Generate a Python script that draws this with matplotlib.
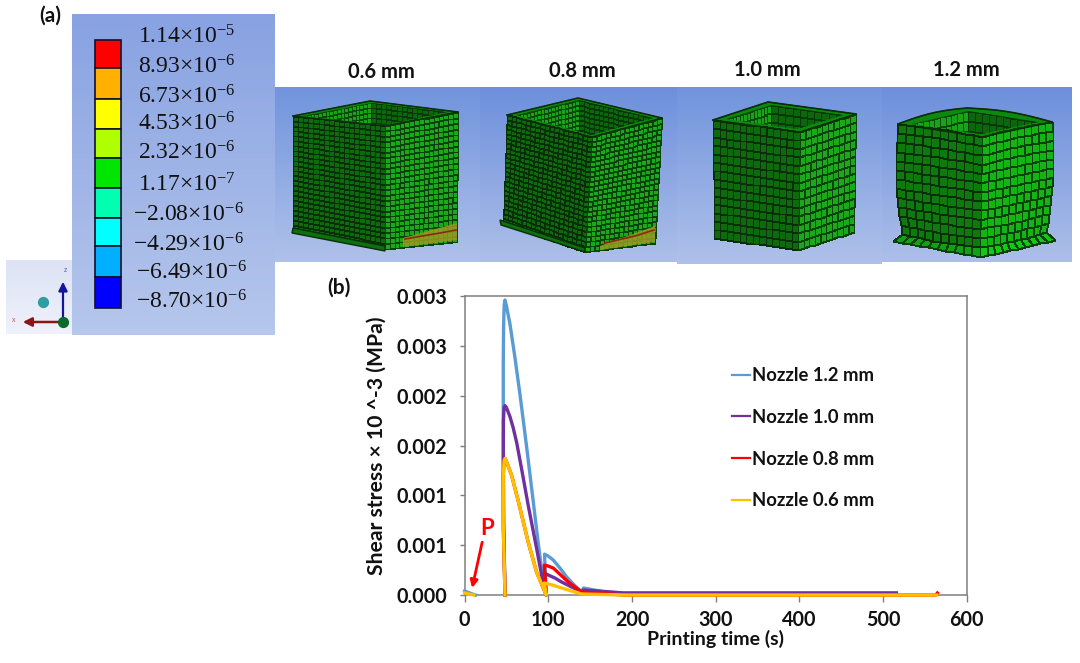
import matplotlib
matplotlib.use("Agg")
import matplotlib.pyplot as plt
import numpy as np
from matplotlib.patches import Polygon, Rectangle

plt.rcParams["font.family"] = ["Lato", "DejaVu Sans"]
plt.rcParams["font.weight"] = "bold"
plt.rcParams["axes.labelweight"] = "bold"
plt.rcParams["mathtext.fontset"] = "stix"
plt.rcParams["mathtext.default"] = "regular"

# chart values
t_blue = [0, 6, 13, None, 48.3, 46.6, 46.2, 46.2, 46.6, 47.3, 48.3, 50, 54.2, 60.2, 66.2, 74.2, 82, 88, 92, 95, 97.5, 95.5, 100, 106, 114, 122, 131, 140, 142, 155, 168, 190, 300, 516]
s_blue = [0.00004, 0.00002, 0, None, 0, 0.0008, 0.0016, 0.0023, 0.0027, 0.00291, 0.00296, 0.0029, 0.00272, 0.00238, 0.00201, 0.00148, 0.00094, 0.00052, 0.00026, 0.0001, 0, 0.00041, 0.00039, 0.00035, 0.00027, 0.00018, 0.0001, 0.00003, 0.00007, 0.00005, 0.00003, 0.00002, 0.00002, 0.00002]
t_purple = [48.3, 46.6, 46.2, 46.4, 47.2, 48.3, 50, 54.2, 58, 62.2, 68, 76, 86, 92, 95, 97.5, 95.3, 100, 108, 116, 128, 140, 142, 160, 190, 300, 516]
s_purple = [0, 0.0007, 0.0014, 0.00175, 0.00188, 0.0019, 0.00188, 0.00179, 0.00168, 0.00153, 0.00127, 0.0009, 0.00047, 0.0002, 0.00007, 0, 0.00022, 0.0002, 0.00017, 0.00013, 0.00008, 0.00003, 0.00005, 0.00004, 0.00002, 0.00002, 0.00002]
t_red = [48.3, 46.2, 46.2, 47.2, 48.3, 50, 56.2, 64.2, 76, 86, 94, 97.5, 95.3, 100, 106, 115, 124, 132, 140, 190, 400, 563, 565]
s_red = [0, 0.0007, 0.0012, 0.00135, 0.00137, 0.00134, 0.0012, 0.00094, 0.00053, 0.00023, 0.00007, 0, 0.0003, 0.00029, 0.00027, 0.0002, 0.00013, 0.00008, 0.00003, 0, 0, 0, 0.00002]
t_yellow = [0, 5, 11, None, 48.3, 46.2, 46.2, 47.2, 48.3, 50, 56.2, 64.2, 76, 86, 94, 97.5, 95.3, 105, 116, 128, 140, 190, 400, 564]
s_yellow = [0.00002, 0.00001, 0, None, 0, 0.0007, 0.0012, 0.00135, 0.00137, 0.00134, 0.0012, 0.00094, 0.00053, 0.00023, 0.00007, 0, 0.00012, 0.0001, 0.00007, 0.00004, 0.00001, 0, 0, 0]
names = ["Nozzle 1.2 mm", "Nozzle 1.0 mm", "Nozzle 0.8 mm", "Nozzle 0.6 mm"]
colors = ["#5b9bd5", "#7030a0", "#ff0000", "#ffc000"]
x_ticks = [0, 100, 200, 300, 400, 500, 600]
y_ticks = [0, 0.0005, 0.001, 0.0015, 0.002, 0.0025, 0.003]
y_labels = ["0.000", "0.001", "0.001", "0.002", "0.002", "0.003", "0.003"]

# contour legend
levels = ["1.14", "8.93", "6.73", "4.53", "2.32", "1.17", "\u22122.08", "\u22124.29", "\u22126.49", "\u22128.70"]
exps = [5, 6, 6, 6, 6, 7, 6, 6, 6, 6]
level_colors = ["#ff0000", "#ffb000", "#ffff00", "#b0ff00", "#00e600", "#00ffb0", "#00ffff", "#00b0ff", "#0000ff"]
bar_edges = [40, 68, 99, 129, 158, 188, 218, 246, 277, 308]
label_y = [37, 67, 97, 124, 153, 185, 215, 245, 273, 302]
label_x = [138, 138, 138, 138, 138, 138, 133, 133, 136, 136]

fig = plt.figure(figsize=(10.8, 6.63), dpi=100)

# whole figure in pixels for panel (a)
bg = fig.add_axes([0, 0, 1, 1])
bg.set_xlim(0, 1080)
bg.set_ylim(663, 0)
bg.axis("off")


def gradient(x0, x1, y0, y1, top, bottom):
    c0 = np.array(matplotlib.colors.to_rgb(top))
    c1 = np.array(matplotlib.colors.to_rgb(bottom))
    f = np.linspace(0, 1, 64)[:, None, None]
    img = c0[None, None, :] * (1 - f) + c1[None, None, :] * f
    bg.imshow(img, extent=(x0, x1, y1, y0), aspect="auto", zorder=1)


def face(p00, p10, p01, p11, nu, nv, fc, ec, side=0, bulge=0.0, sag=0.0, lw=0.7, clip=None):
    # bilinear grid, side=-1/1 bows the outer edge of a left/right wall
    p00, p10, p01, p11 = [np.array(p, dtype=float) for p in (p00, p10, p01, p11)]
    U, V = np.meshgrid(np.linspace(0, 1, nu + 1), np.linspace(0, 1, nv + 1))
    X = (1 - U) * (1 - V) * p00[0] + U * (1 - V) * p10[0] + (1 - U) * V * p01[0] + U * V * p11[0]
    Y = (1 - U) * (1 - V) * p00[1] + U * (1 - V) * p10[1] + (1 - U) * V * p01[1] + U * V * p11[1]
    if side < 0:
        X = X - bulge * np.sin(np.pi * V) * (1 - U)
    elif side > 0:
        X = X + bulge * np.sin(np.pi * V) * U
    Y = Y + sag * np.sin(np.pi * U) * (2 * V - 1)
    m = bg.pcolormesh(X, Y, np.zeros_like(X[:-1, :-1]), cmap=matplotlib.colors.ListedColormap([fc]),
                      edgecolors=ec, linewidth=lw, shading="flat", zorder=3)
    if clip is not None:
        m.set_clip_path(Polygon(clip, closed=True, transform=bg.transData))


def box(L, C, R, B, Lb, Cb, Rb, nl, nr, nv, wall, lw, bulge=0.0, sag=0.0, arc=0.0,
        left="#0d6a0d", right="#1ba81b"):
    L, C, R, B = [np.array(p, dtype=float) for p in (L, C, R, B)]
    # inner opening corners
    iL = L + (B - L) * wall + (C - L) * wall
    iR = R + (B - R) * wall + (C - R) * wall
    iC = C + (L - C) * wall + (R - C) * wall
    iB = B + (L - B) * wall + (R - B) * wall
    drop = np.array([0, 60.0])
    opening = [iL, iB, iR, iC]
    # back edge of the rim, bowed up when arc is set
    s = np.linspace(0, 1, 12)[:, None]
    up = np.array([0, -arc]) * np.sin(np.pi * s)
    back = np.vstack([L + (B - L) * s + up, B + (R - B) * s + up])
    bg.add_patch(Polygon(np.vstack([back, C]), closed=True, fc="#0d8a0d", ec="#0a3a0a", lw=lw, zorder=2.5))
    # far walls seen through the opening
    face(iL, iB, iL + drop, iB + drop, nl, int(nv * 0.55), "#19a319", "#0a4a0a", lw=lw, clip=opening)
    face(iB, iR, iB + drop, iR + drop, nr, int(nv * 0.55), "#0c660c", "#073807", lw=lw, clip=opening)
    face(L, C, Lb, Cb, nl, nv, left, "#082f08", side=-1, bulge=bulge, sag=sag, lw=lw)
    face(C, R, Cb, Rb, nr, nv, right, "#0a430a", side=1, bulge=bulge, sag=sag, lw=lw)
    bg.plot(back[:, 0], back[:, 1], color="#0a2f0a", lw=lw + 0.5, zorder=4)
    bg.plot([L[0], C[0], R[0]], [L[1], C[1], R[1]], color="#0a2f0a", lw=lw + 0.3, zorder=4)


# blue panels
gradient(72, 275, 14, 335, "#88a2e2", "#b6c7ec")
gradient(6, 72, 260, 334, "#dde3f5", "#eff1fb")
gradient(275, 480, 87, 262, "#7194dd", "#afc1ea")
gradient(480, 677, 87, 262, "#6d8fdc", "#adbfe9")
gradient(677, 882, 87, 264, "#7194dd", "#afc1ea")
gradient(882, 1072, 87, 262, "#6d8fdc", "#adbfe9")

# colour key
for i, c in enumerate(level_colors):
    bg.add_patch(Rectangle((95, bar_edges[i]), 26, bar_edges[i + 1] - bar_edges[i],
                           fc=c, ec="#101030", lw=1.2, zorder=3))
for i, lev in enumerate(levels):
    bg.text(label_x[i], label_y[i], lev + "\u00d710$^{\u2212%d}$" % exps[i],
            fontsize=17, family="Liberation Serif", weight="normal", va="center", ha="left", color="#111111", zorder=5)

# axis triad
bg.annotate("", xy=(63, 279), xytext=(63, 322), zorder=5,
            arrowprops=dict(arrowstyle="-|>", color="#14149c", lw=1.6, mutation_scale=13))
bg.annotate("", xy=(20, 322), xytext=(63, 322), zorder=5,
            arrowprops=dict(arrowstyle="-|>", color="#8c1414", lw=1.8, mutation_scale=13))
bg.scatter([63], [322], s=50, color="#0d6b2a", zorder=6)
bg.scatter([43], [302], s=50, color="#2f9da3", zorder=6)
bg.text(65, 270, "z", fontsize=5, color="#5560c0", ha="center", va="center", weight="normal", zorder=6)
bg.text(14, 320, "x", fontsize=5, color="#c06060", ha="center", va="center", weight="normal", zorder=6)

# meshed boxes
box((293, 116), (385, 126), (458, 112), (370, 101), (293, 230), (385, 249), (457, 242), 18, 15, 23, 0.06, 0.6)
bg.add_patch(Polygon([(293, 228), (385, 246), (385, 251), (292, 233)], closed=True, fc="#0f6e0f", ec="#082f08", lw=1, zorder=5))
bg.add_patch(Polygon([(403, 238), (457, 223), (457, 240), (403, 247)], closed=True, fc="#9a9a22", ec="none", alpha=0.85, zorder=5))
bg.plot([405, 440, 456], [239, 233, 230], color="#8a2a10", lw=1.2, zorder=6)

box((507, 115), (592, 137), (662, 118), (578, 98), (503, 223), (585, 252), (655, 243), 18, 15, 23, 0.06, 0.6)
bg.add_patch(Polygon([(500, 220), (585, 248), (585, 252), (501, 225)], closed=True, fc="#0f6e0f", ec="#082f08", lw=1, zorder=5))
bg.add_patch(Polygon([(600, 246), (655, 226), (655, 242), (600, 250)], closed=True, fc="#9a9a22", ec="none", alpha=0.85, zorder=5))
bg.plot([605, 635, 654], [243, 236, 230], color="#8a2a10", lw=1.2, zorder=6)

box((713, 120), (800, 132), (856, 114), (768, 102), (714, 238), (798, 250), (854, 232), 13, 10, 14, 0.09, 0.7)

# flange under the 1.2 mm box
face((902, 234), (980, 247), (893, 241), (980, 257), 10, 1, "#14a014", "#0a430a")
face((980, 247), (1046, 232), (980, 257), (1055, 240), 10, 1, "#14c814", "#0a430a")
box((898, 124), (982, 137), (1052, 122), (967, 108), (902, 234), (980, 247), (1046, 232), 10, 10, 12, 0.09, 0.7,
    bulge=4, sag=1.5, arc=3, left="#0e7a0e", right="#14b414")

# panel titles
for tx, ty, s in [(381, 72, "0.6 mm"), (582, 71, "0.8 mm"), (767, 70, "1.0 mm"), (966, 70, "1.2 mm")]:
    bg.text(tx, ty, s, fontsize=14.5, ha="center", va="center", color="#111111", zorder=5)
bg.text(50, 16, "(a)", fontsize=15, ha="center", va="center", color="#111111")
bg.text(339, 288, "(b)", fontsize=15, ha="center", va="center", color="#111111")

# panel (b) chart
ax = fig.add_axes([464.6 / 1080, 1 - 595 / 663, (966.7 - 464.6) / 1080, (595 - 296) / 663])
ax.patch.set_alpha(0)
series = [(t_blue, s_blue), (t_purple, s_purple), (t_red, s_red), (t_yellow, s_yellow)]
for (t, s), c, name in zip(series, colors, names):
    t = np.array(t, dtype=float)
    s = np.array(s, dtype=float)
    ax.plot(t, s, color=c, lw=2.4, label=name, solid_joinstyle="round", clip_on=False, zorder=3)

ax.set_xlim(0, 600)
ax.set_ylim(0, 0.003)
ax.set_xticks(x_ticks)
ax.set_yticks(y_ticks)
ax.set_yticklabels(y_labels)
ax.tick_params(axis="x", direction="out", length=5, width=1, color="#7f7f7f", labelsize=14.2, pad=6, labelcolor="#111111")
ax.tick_params(axis="y", direction="out", length=3.6, width=1, color="#7f7f7f", labelsize=14.2, pad=9, labelcolor="#111111")
for sp in ax.spines.values():
    sp.set_color("#7f7f7f")
    sp.set_linewidth(1.1)
ax.set_xlabel("Printing time (s)", fontsize=14, labelpad=0, color="#111111")
ax.set_ylabel("Shear stress \u00d7 10 ^-3 (MPa)", fontsize=15.2, labelpad=7, color="#111111")

leg = ax.legend(loc="upper left", bbox_to_anchor=(0.533, 0.762), frameon=False, fontsize=13.3,
                handlelength=0.97, handletextpad=0.1, labelspacing=1.34, borderpad=0, borderaxespad=0,
                labelcolor="#111111")
for h in leg.get_lines():
    h.set_linewidth(1.6)

ax.annotate("", xy=(9, 0.00007), xytext=(21, 0.00053),
            arrowprops=dict(arrowstyle="-|>", color="#ff0000", lw=2, mutation_scale=11, shrinkA=0, shrinkB=0))
ax.text(27, 0.00067, "P", color="#ff0000", fontsize=16, ha="center", va="center")

fig.savefig("out.png", dpi=100)
